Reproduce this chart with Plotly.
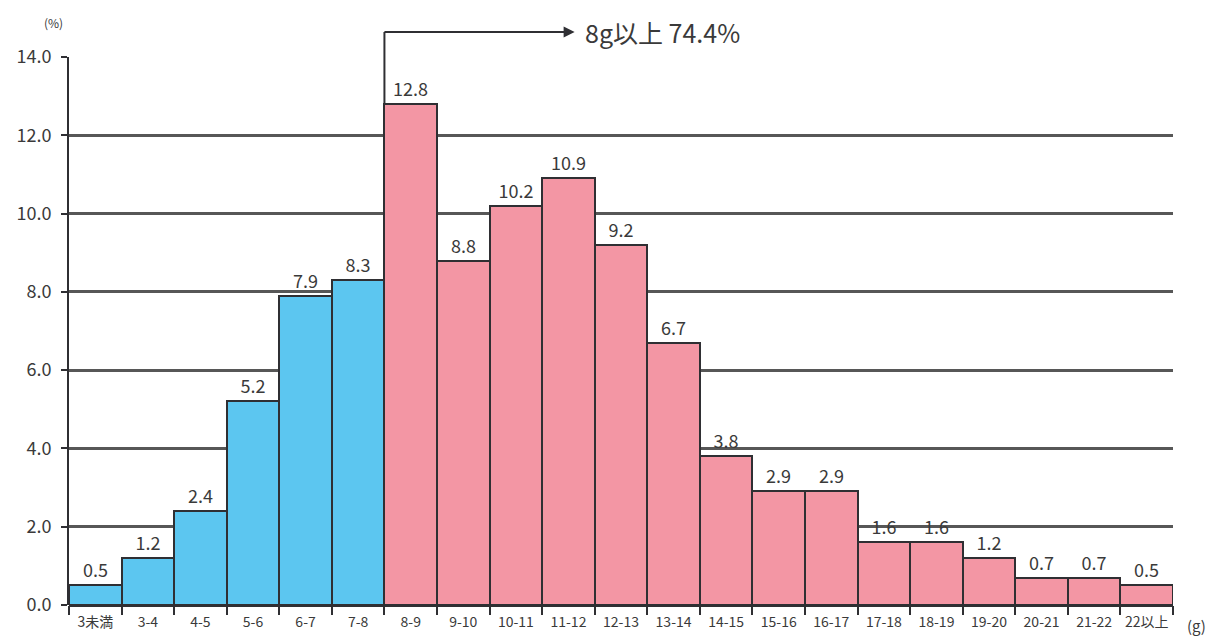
import plotly.graph_objects as go

# Salt intake distribution (g/day) and share of people in each band (%)
categories = ["3未満", "3-4", "4-5", "5-6", "6-7", "7-8", "8-9", "9-10", "10-11", "11-12",
              "12-13", "13-14", "14-15", "15-16", "16-17", "17-18", "18-19", "19-20",
              "20-21", "21-22", "22以上"]
shares = [0.5, 1.2, 2.4, 5.2, 7.9, 8.3, 12.8, 8.8, 10.2, 10.9, 9.2, 6.7, 3.8, 2.9, 2.9,
          1.6, 1.6, 1.2, 0.7, 0.7, 0.5]
y_ticks = [0, 2, 4, 6, 8, 10, 12, 14]
threshold_index = 6  # first band at or above 8 g
summary_text = "8g以上 74.4%"

BLUE = "#5cc6f0"
PINK = "#f396a4"
EDGE = "#2f2f33"
TEXT = "#3a3a3a"
FONT = "Noto Sans CJK JP, Noto Sans, sans-serif"

colors = [BLUE if i < threshold_index else PINK for i in range(len(categories))]

fig = go.Figure(go.Bar(
    x=categories,
    y=shares,
    marker=dict(color=colors, line=dict(color=EDGE, width=2)),
    text=[f"{v:.1f}" for v in shares],
    textposition="outside",
    textfont=dict(family=FONT, size=18, color=TEXT),
    cliponaxis=False,
    hoverinfo="x+y",
))

fig.update_layout(
    width=1214, height=643,
    margin=dict(l=69, r=41, t=57, b=38, autoexpand=False),
    paper_bgcolor="white", plot_bgcolor="white",
    bargap=0,
    showlegend=False,
    font=dict(family=FONT, color=TEXT),
)

fig.update_xaxes(
    type="category",
    range=[-0.5, len(categories) - 0.5],
    showgrid=False,
    showline=False,
    automargin=False,
    tickangle=0,
    ticks="outside", tickson="boundaries", ticklen=9, tickwidth=2, tickcolor=EDGE,
    ticklabelstandoff=7,
    tickfont=dict(family=FONT, size=14, color=TEXT),
)

fig.update_yaxes(
    range=[0, 14],
    automargin=False,
    tickvals=y_ticks,
    ticktext=[f"{v:.1f}" for v in y_ticks],
    showgrid=True, gridcolor="#575757", gridwidth=3,
    zeroline=True, zerolinecolor=EDGE, zerolinewidth=3,
    showline=True, linecolor=EDGE, linewidth=2,
    ticks="outside", ticklen=6, tickwidth=2, tickcolor=EDGE,
    ticklabelstandoff=6,
    tickfont=dict(family=FONT, size=18, color=TEXT),
)

# Bracket marking the 8 g and above share, drawn above the plot area
n = len(categories)
boundary_paper = threshold_index / n
bracket_y = 1.0456
arrow_end = 0.458
fig.add_shape(type="line", xref="paper", yref="paper",
              x0=boundary_paper, x1=boundary_paper,
              y0=shares[threshold_index] / 14, y1=bracket_y,
              line=dict(color=EDGE, width=2))
fig.add_shape(type="line", xref="paper", yref="paper",
              x0=boundary_paper, x1=arrow_end - 0.004, y0=bracket_y, y1=bracket_y,
              line=dict(color=EDGE, width=2))
fig.add_annotation(xref="paper", yref="paper", x=arrow_end, y=bracket_y,
                   ax=-12, ay=0, text="", showarrow=True, arrowhead=2, arrowsize=1.1,
                   arrowwidth=2, arrowcolor=EDGE)
fig.add_annotation(xref="paper", yref="paper", x=arrow_end, y=bracket_y, xshift=8,
                   xanchor="left", yanchor="middle",
                   text=summary_text, showarrow=False,
                   font=dict(family=FONT, size=25, color=TEXT))

# Axis unit labels
fig.add_annotation(xref="paper", yref="paper", x=-0.0, y=1.0, xshift=-4, yshift=24,
                   xanchor="right", yanchor="bottom", text="(%)", showarrow=False,
                   font=dict(family=FONT, size=12, color=TEXT))
fig.add_annotation(xref="paper", yref="paper", x=1.0, y=0, xshift=12, yshift=-20,
                   xanchor="left", yanchor="middle", text="(g)", showarrow=False,
                   font=dict(family=FONT, size=15, color=TEXT))

fig.write_html("out.html")
